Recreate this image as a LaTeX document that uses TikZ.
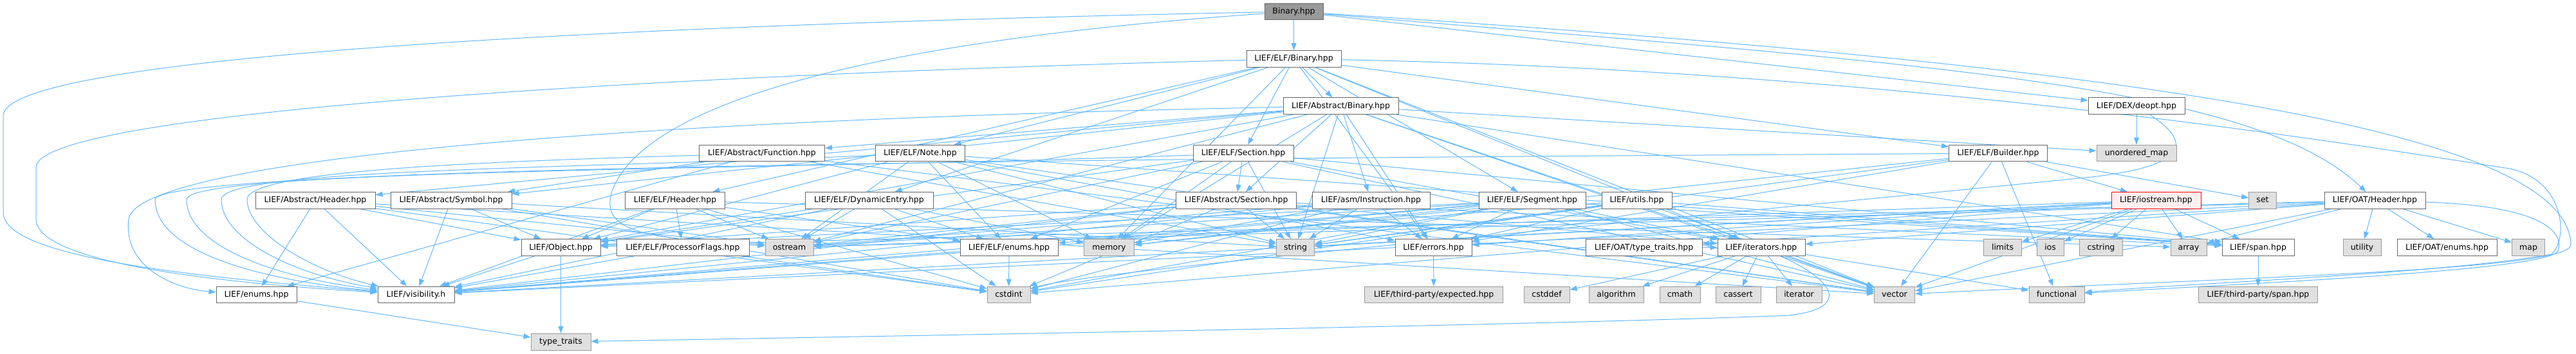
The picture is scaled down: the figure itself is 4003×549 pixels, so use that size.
\documentclass[tikz,border=0pt]{standalone}
\usepackage{fontspec}
\setmainfont{DejaVu Sans}
\usetikzlibrary{arrows.meta}
\pgfdeclarelayer{bg}
\pgfsetlayers{bg,main}
\definecolor{edgec}{HTML}{63B8FF}
\definecolor{nodeb}{HTML}{666666}
\definecolor{sysb}{HTML}{999999}
\definecolor{sysf}{HTML}{E0E0E0}
\definecolor{rootf}{HTML}{999999}
\definecolor{truncf}{HTML}{FFF0F0}
\tikzset{
  nb/.style={draw=nodeb, fill=white, line width=1pt, minimum height=25.7pt, inner sep=0pt,
    font=\fontsize{12.5}{14}\selectfont, text height=9.5pt, text depth=2.5pt, anchor=center},
  sb/.style={nb, draw=sysb, fill=sysf},
  rb/.style={nb, fill=rootf},
  tb/.style={nb, draw=red, fill=truncf},
  e/.style={draw=edgec, line width=1pt, -{Triangle[length=11pt,width=8pt]}},
}
\begin{document}
\begin{tikzpicture}[x=1pt,y=-1pt]
\useasboundingbox (0,0) rectangle (4003,549);
% row 0
\node[rb, minimum width=91pt] (root) at (2010.5,17.9) {Binary.hpp};
% row 1
\node[nb, minimum width=147pt] (elfbin) at (2010.5,91.4) {LIEF/ELF/Binary.hpp};
% row 2
\node[nb, minimum width=179pt] (absbin) at (2083.5,164.6) {LIEF/Abstract/Binary.hpp};
\node[nb, minimum width=150pt] (deopt) at (3320,164.6) {LIEF/DEX/deopt.hpp};
% row 3
\node[nb, minimum width=195pt] (func) at (1184,238.1) {LIEF/Abstract/Function.hpp};
\node[nb, minimum width=139pt] (note) at (1430,238.1) {LIEF/ELF/Note.hpp};
\node[nb, minimum width=156pt] (elfsec) at (1932,238.1) {LIEF/ELF/Section.hpp};
\node[nb, minimum width=153pt] (builder) at (3105,238.1) {LIEF/ELF/Builder.hpp};
\node[sb, minimum width=124pt] (umap) at (3320,238.1) {unordered\_map};
% row 4
\node[nb, minimum width=186pt] (abshdr) at (490,311.3) {LIEF/Abstract/Header.hpp};
\node[nb, minimum width=188pt] (sym) at (701,311.3) {LIEF/Abstract/Symbol.hpp};
\node[nb, minimum width=155pt] (elfhdr) at (1049,311.3) {LIEF/ELF/Header.hpp};
\node[nb, minimum width=199pt] (dyn) at (1350.5,311.3) {LIEF/ELF/DynamicEntry.hpp};
\node[nb, minimum width=187pt] (abssec) at (1921,311.3) {LIEF/Abstract/Section.hpp};
\node[nb, minimum width=183pt] (instr) at (2130.5,311.3) {LIEF/asm/Instruction.hpp};
\node[nb, minimum width=166pt] (seg) at (2381,311.3) {LIEF/ELF/Segment.hpp};
\node[nb, minimum width=109pt] (utils) at (2543.5,311.3) {LIEF/utils.hpp};
\node[tb, minimum width=139pt] (iostr) at (3350.5,311.3) {LIEF/iostream.hpp};
\node[sb, minimum width=43pt] (set) at (3516,311.3) {set};
\node[nb, minimum width=157pt] (oathdr) at (3690.5,311.3) {LIEF/OAT/Header.hpp};
% row 5
\node[nb, minimum width=123pt] (obj) at (871.5,384.5) {LIEF/Object.hpp};
\node[nb, minimum width=206pt] (pflags) at (1061,384.5) {LIEF/ELF/ProcessorFlags.hpp};
\node[sb, minimum width=75pt] (ostream) at (1226.5,384.5) {ostream};
\node[nb, minimum width=152pt] (elfenums) at (1568,384.5) {LIEF/ELF/enums.hpp};
\node[sb, minimum width=78pt] (memory) at (1723.5,384.5) {memory};
\node[sb, minimum width=59pt] (string) at (2013,384.5) {string};
\node[nb, minimum width=119pt] (errors) at (2227.5,384.5) {LIEF/errors.hpp};
\node[nb, minimum width=181pt] (oattt) at (2554.5,384.5) {LIEF/OAT/type\_traits.hpp};
\node[nb, minimum width=136pt] (iter) at (2737,384.5) {LIEF/iterators.hpp};
\node[sb, minimum width=59pt] (limits) at (3112,384.5) {limits};
\node[sb, minimum width=42pt] (ios) at (3186,384.5) {ios};
\node[sb, minimum width=67pt] (cstring) at (3265,384.5) {cstring};
\node[sb, minimum width=56pt] (array) at (3401,384.5) {array};
\node[nb, minimum width=112pt] (span) at (3509,384.5) {LIEF/span.hpp};
\node[sb, minimum width=59pt] (utility) at (3670.5,384.5) {utility};
\node[nb, minimum width=155pt] (oatenums) at (3802.5,384.5) {LIEF/OAT/enums.hpp};
\node[sb, minimum width=51pt] (map) at (3929,384.5) {map};
% row 6
\node[nb, minimum width=125pt] (enums) at (398.5,458) {LIEF/enums.hpp};
\node[nb, minimum width=119pt] (vis) at (646.5,458) {LIEF/visibility.h};
\node[sb, minimum width=67pt] (cstdint) at (1567.5,458) {cstdint};
\node[sb, minimum width=215pt] (expected) at (2228,458) {LIEF/third-party/expected.hpp};
\node[sb, minimum width=71pt] (cstddef) at (2403.5,458) {cstddef};
\node[sb, minimum width=85pt] (algorithm) at (2511.5,458) {algorithm};
\node[sb, minimum width=63pt] (cmath) at (2610.5,458) {cmath};
\node[sb, minimum width=70pt] (cassert) at (2701,458) {cassert};
\node[sb, minimum width=71pt] (iterator) at (2795.5,458) {iterator};
\node[sb, minimum width=63pt] (vector) at (2944,458) {vector};
\node[sb, minimum width=86pt] (functional) at (3196,458) {functional};
\node[sb, minimum width=185pt] (tpspan) at (3509,458) {LIEF/third-party/span.hpp};
% row 7
\node[sb, minimum width=93pt] (tt) at (871.5,531.2) {type\_traits};

\begin{pgfonlayer}{bg}
\fill[white] (0,0) rectangle (4003,549);
\foreach \a/\b in {
 root/elfbin, root/deopt,
 elfbin/absbin, elfbin/note, elfbin/dyn, elfbin/elfhdr, elfbin/elfsec, elfbin/seg, elfbin/builder,
 elfbin/errors, elfbin/iter, elfbin/memory, elfbin/vector,
 absbin/func, absbin/abshdr, absbin/sym, absbin/abssec, absbin/instr, absbin/obj, absbin/iter,
 absbin/errors, absbin/umap, absbin/memory, absbin/string, absbin/vector, absbin/ostream, absbin/span,
 deopt/umap,
 func/sym, func/enums, func/string, func/vector,
 note/obj, note/elfenums, note/memory, note/string, note/vector, note/ostream, note/span, note/errors,
 elfsec/abssec, elfsec/obj, elfsec/elfenums, elfsec/memory, elfsec/string, elfsec/vector, elfsec/iter,
 elfsec/span, elfsec/ostream,
 builder/errors, builder/iostr, builder/set, builder/memory, builder/vector, builder/functional, builder/string,
 abshdr/obj, abshdr/vis, abshdr/enums, abshdr/ostream, abshdr/cstdint, abshdr/vector,
 sym/obj, sym/vis, sym/string, sym/cstdint, sym/ostream,
 elfhdr/obj, elfhdr/pflags, elfhdr/ostream, elfhdr/vis, elfhdr/elfenums, elfhdr/cstdint, elfhdr/array,
 dyn/obj, dyn/vis, dyn/elfenums, dyn/ostream, dyn/memory, dyn/cstdint,
 abssec/obj, abssec/vis, abssec/string, abssec/vector, abssec/span, abssec/iter, abssec/cstdint, abssec/ostream,
 instr/vis, instr/memory, instr/string, instr/ostream, instr/cstdint, instr/errors,
 seg/obj, seg/vis, seg/elfenums, seg/errors, seg/iter, seg/span, seg/memory, seg/string, seg/vector,
 seg/ostream, seg/cstdint,
 utils/vis, utils/errors, utils/span, utils/string, utils/vector, utils/cstdint,
 iostr/limits, iostr/ios, iostr/cstring, iostr/array, iostr/span, iostr/vector, iostr/string,
 iostr/cstdint, iostr/ostream, iostr/vis, iostr/errors,
 oathdr/obj, oathdr/vis, oathdr/oatenums, oathdr/oattt, oathdr/iter, oathdr/array, oathdr/utility,
 oathdr/map, oathdr/vector, oathdr/ostream,
 obj/vis, obj/tt, pflags/vis, pflags/cstdint, elfenums/cstdint, elfenums/vis,
 errors/expected, oattt/iter,
 iter/cmath, iter/cassert, iter/iterator, iter/vector, iter/functional, iter/algorithm, iter/cstddef,
 span/tpspan, enums/tt}
 {\draw[e] (\a) -- (\b);}
% curved connectors
\draw[e] (root) .. controls (900,40) and (5,90) .. (5,180) -- (5,330) .. controls (5,400) and (300,430) .. (vis);
\draw[e] (elfbin) .. controls (900,120) and (56,180) .. (56,260) -- (56,340) .. controls (56,410) and (350,440) .. (vis);
\draw[e] (absbin) .. controls (800,190) and (214,260) .. (200,340) .. controls (190,420) and (280,450) .. (enums);
\draw[e] (func) .. controls (800,250) and (384,262) .. (384,310) .. controls (384,360) and (480,420) .. (vis);
\draw[e] (note) .. controls (900,262) and (344,262) .. (344,310) .. controls (344,370) and (450,425) .. (vis);
\draw[e] (elfsec) .. controls (1200,265) and (290,262) .. (290,310) .. controls (290,380) and (420,430) .. (vis);
\draw[e] (builder) .. controls (2000,245) and (241,255) .. (241,310) .. controls (241,390) and (400,435) .. (vis);
\draw[e] (root) .. controls (1400,60) and (1000,150) .. (950,300) .. controls (935,360) and (1000,370) .. (ostream);
\draw[e] (root) .. controls (3000,100) and (3500,130) .. (oathdr);
\draw[e] (root) .. controls (3300,100) and (3990,200) .. (3995,380) .. controls (3995,420) and (3500,430) .. (vector);
\draw[e] (elfbin) .. controls (3000,110) and (3750,240) .. (3900,262) .. controls (3985,280) and (3992,370) .. (3965,395) .. controls (3800,425) and (3400,440) .. (functional);
\draw[e] (oathdr) .. controls (3950,320) and (3985,360) .. (3975,390) .. controls (3960,420) and (3500,440) .. (functional);
\draw[e] (deopt) .. controls (3420,230) and (3380,260) .. (3250,275) .. controls (2500,350) and (1700,420) .. (cstdint);
\draw[e] (iter) .. controls (2860,440) and (2870,480) .. (2780,490) .. controls (2400,505) and (1500,520) .. (tt);
\end{pgfonlayer}
\end{tikzpicture}
\end{document}
